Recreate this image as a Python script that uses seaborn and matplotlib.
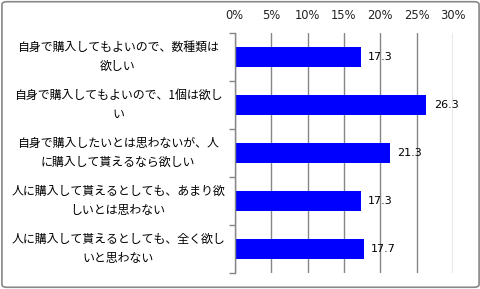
import matplotlib
matplotlib.use("Agg")
import matplotlib.pyplot as plt
import seaborn as sns
import pandas as pd
import numpy as np
from matplotlib.patches import FancyBboxPatch
from matplotlib.ticker import FixedLocator, PercentFormatter

categories = [
    "自身で購入してもよいので、数種類は\n欲しい",
    "自身で購入してもよいので、1個は欲し\nい",
    "自身で購入したいとは思わないが、人\nに購入して貰えるなら欲しい",
    "人に購入して貰えるとしても、あまり欲\nしいとは思わない",
    "人に購入して貰えるとしても、全く欲し\nいと思わない",
]
values = [17.3, 26.3, 21.3, 17.3, 17.7]
xticks = [0, 5, 10, 15, 20, 25, 30]

sns.set_theme(style="white")
plt.rcParams['font.family'] = ['Noto Sans CJK JP', 'DejaVu Sans']

df = pd.DataFrame({"cat": categories, "val": values})

fig = plt.figure(figsize=(4.81, 2.89), dpi=100)
ax = fig.add_axes([0.488, 0.055, 0.942 - 0.488, 0.886 - 0.055])

sns.barplot(data=df, x="val", y="cat", orient="h", color="#0000FF",
            saturation=1, width=0.4, linewidth=0, edgecolor='none', ax=ax)

ax.set_xlim(0, 30)
ax.set_ylim(4.5, -0.5)
ax.xaxis.tick_top()
ax.set_xticks(xticks)
ax.xaxis.set_major_formatter(PercentFormatter(decimals=0))
ax.tick_params(axis='x', length=0, pad=8, labelsize=8.3, colors='#222222')
for lbl in ax.get_xticklabels():
    lbl.set_family(['DejaVu Sans'])
ax.grid(axis='x', color='#868686', linewidth=1)
ax.set_axisbelow(True)
ax.set_xlabel("")
ax.set_ylabel("")

for s in ['top', 'right', 'bottom']:
    ax.spines[s].set_visible(False)
ax.spines['left'].set_color('#868686')
ax.spines['left'].set_linewidth(1)

# y tick labels centered, tick marks at category boundaries
ax.yaxis.set_minor_locator(FixedLocator(np.arange(-0.5, 5.0, 1.0)))
ax.tick_params(axis='y', which='minor', length=4, color='#868686', width=1, left=True)
ax.tick_params(axis='y', which='major', length=0, pad=84, labelsize=8.6, colors='black')
for lbl in ax.get_yticklabels():
    lbl.set_horizontalalignment('center')
    lbl.set_verticalalignment('center')
    lbl.set_multialignment('center')
    lbl.set_linespacing(1.55)

for i, v in enumerate(values):
    ax.annotate(f"{v:.1f}", xy=(v, i), xytext=(5.5, 0), textcoords='offset points',
                va='center', ha='left', fontsize=8, color='black',
                family=['DejaVu Sans'])

border = FancyBboxPatch((0.004, 0.006), 0.992, 0.988, boxstyle="round,pad=0,rounding_size=0.01",
                        transform=fig.transFigure, facecolor='none', edgecolor='#888888',
                        linewidth=1.2, clip_on=False)
fig.patches.append(border)

fig.savefig("out.png", dpi=100)
